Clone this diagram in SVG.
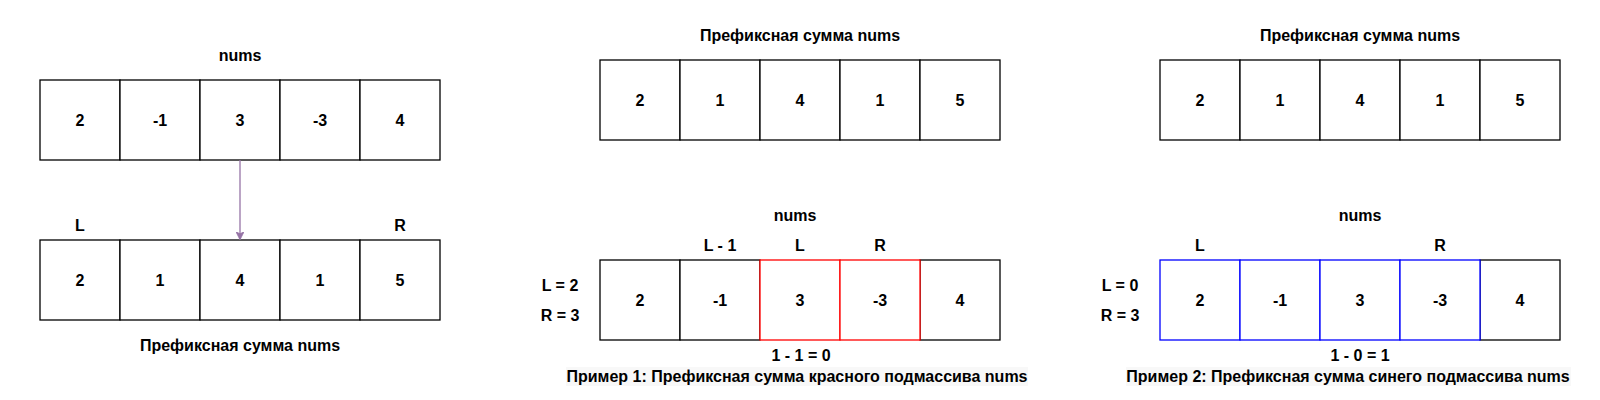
<svg xmlns="http://www.w3.org/2000/svg" width="1600" height="400" viewBox="0 0 1600 400">
<style>
text{font-family:"Liberation Sans",Arial,sans-serif;font-size:16px;font-weight:bold;fill:#000;text-anchor:middle}
.c{fill:#fff;stroke:#000;stroke-width:1.3}
.r{fill:#fff;stroke:#f00;stroke-width:1.3}
.b{fill:#fff;stroke:#00f;stroke-width:1.3}
.cap{fill:#f8f8f8}
</style>
<defs>
<marker id="ah" viewBox="0 0 10 10" refX="9" refY="5" markerWidth="8" markerHeight="8" markerUnits="userSpaceOnUse" orient="auto">
<path d="M0,0 L10,5 L0,10 L2.5,5 Z" fill="#9673A6" stroke="#9673A6"/>
</marker>
</defs>
<rect width="1600" height="400" fill="#fff"/>

<g id="left-nums">
<text x="240" y="61">nums</text>
<rect class="c" x="40" y="80" width="80" height="80"/><text x="80" y="126">2</text>
<rect class="c" x="120" y="80" width="80" height="80"/><text x="160" y="126">-1</text>
<rect class="c" x="200" y="80" width="80" height="80"/><text x="240" y="126">3</text>
<rect class="c" x="280" y="80" width="80" height="80"/><text x="320" y="126">-3</text>
<rect class="c" x="360" y="80" width="80" height="80"/><text x="400" y="126">4</text>
</g>
<g id="left-prefix">
<text x="80" y="231">L</text>
<text x="400" y="231">R</text>
<rect class="c" x="40" y="240" width="80" height="80"/><text x="80" y="286">2</text>
<rect class="c" x="120" y="240" width="80" height="80"/><text x="160" y="286">1</text>
<rect class="c" x="200" y="240" width="80" height="80"/><text x="240" y="286">4</text>
<rect class="c" x="280" y="240" width="80" height="80"/><text x="320" y="286">1</text>
<rect class="c" x="360" y="240" width="80" height="80"/><text x="400" y="286">5</text>
<text x="240" y="351">Префиксная сумма nums</text>
</g>

<g id="mid-prefix">
<text x="800" y="41">Префиксная сумма nums</text>
<rect class="c" x="600" y="60" width="80" height="80"/><text x="640" y="106">2</text>
<rect class="c" x="680" y="60" width="80" height="80"/><text x="720" y="106">1</text>
<rect class="c" x="760" y="60" width="80" height="80"/><text x="800" y="106">4</text>
<rect class="c" x="840" y="60" width="80" height="80"/><text x="880" y="106">1</text>
<rect class="c" x="920" y="60" width="80" height="80"/><text x="960" y="106">5</text>
</g>
<g id="mid-nums">
<text x="795" y="221">nums</text>
<text x="720" y="251">L - 1</text>
<text x="800" y="251">L</text>
<text x="880" y="251">R</text>
<text x="560" y="291">L = 2</text>
<text x="560" y="321">R = 3</text>
<rect class="c" x="600" y="260" width="80" height="80"/><text x="640" y="306">2</text>
<rect class="c" x="680" y="260" width="80" height="80"/><text x="720" y="306">-1</text>
<rect class="c" x="920" y="260" width="80" height="80"/><text x="960" y="306">4</text>
<rect class="r" x="760" y="260" width="80" height="80"/><text x="800" y="306">3</text>
<rect class="r" x="840" y="260" width="80" height="80"/><text x="880" y="306">-3</text>
<text x="801" y="361">1 - 1 = 0</text>
<rect class="cap" x="566" y="367" width="462" height="19"/>
<text x="797" y="382">Пример 1: Префиксная сумма красного подмассива nums</text>
</g>

<g id="right-prefix">
<text x="1360" y="41">Префиксная сумма nums</text>
<rect class="c" x="1160" y="60" width="80" height="80"/><text x="1200" y="106">2</text>
<rect class="c" x="1240" y="60" width="80" height="80"/><text x="1280" y="106">1</text>
<rect class="c" x="1320" y="60" width="80" height="80"/><text x="1360" y="106">4</text>
<rect class="c" x="1400" y="60" width="80" height="80"/><text x="1440" y="106">1</text>
<rect class="c" x="1480" y="60" width="80" height="80"/><text x="1520" y="106">5</text>
</g>
<g id="right-nums">
<text x="1360" y="221">nums</text>
<text x="1200" y="251">L</text>
<text x="1440" y="251">R</text>
<text x="1120" y="291">L = 0</text>
<text x="1120" y="321">R = 3</text>
<rect class="c" x="1480" y="260" width="80" height="80"/><text x="1520" y="306">4</text>
<rect class="b" x="1160" y="260" width="80" height="80"/><text x="1200" y="306">2</text>
<rect class="b" x="1240" y="260" width="80" height="80"/><text x="1280" y="306">-1</text>
<rect class="b" x="1320" y="260" width="80" height="80"/><text x="1360" y="306">3</text>
<rect class="b" x="1400" y="260" width="80" height="80"/><text x="1440" y="306">-3</text>
<text x="1360" y="361">1 - 0 = 1</text>
<rect class="cap" x="1126" y="367" width="445" height="19"/>
<text x="1348" y="382">Пример 2: Префиксная сумма синего подмассива nums</text>
</g>

<g id="connectors">
<line x1="240" y1="160" x2="240" y2="239" stroke="#9673A6" stroke-width="1.3" marker-end="url(#ah)"/>
</g>
</svg>
